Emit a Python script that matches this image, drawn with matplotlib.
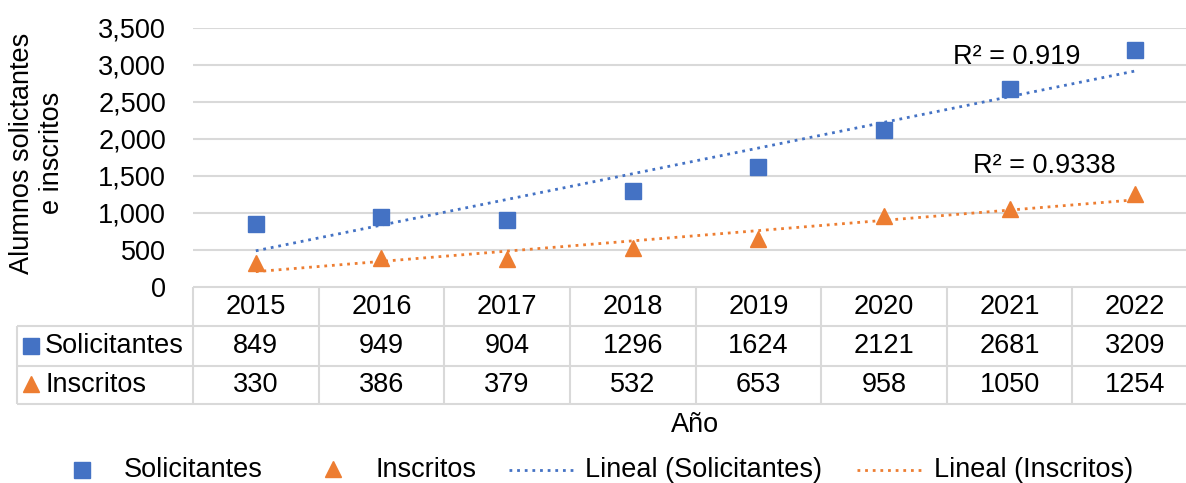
import numpy as np
import matplotlib
matplotlib.use("Agg")
import matplotlib.pyplot as plt

plt.rcParams['font.family'] = ['Liberation Sans', 'DejaVu Sans']

years = ['2015', '2016', '2017', '2018', '2019', '2020', '2021', '2022']
solicitantes = [849, 949, 904, 1296, 1624, 2121, 2681, 3209]
inscritos = [330, 386, 379, 532, 653, 958, 1050, 1254]
yticks = [0, 500, 1000, 1500, 2000, 2500, 3000, 3500]
r2_labels = ['R² = 0.919', 'R² = 0.9338']

BLUE = '#4472C4'
ORANGE = '#ED7D31'
GRID = '#D9D9D9'
FS = 19.5
DOT = dict(lw=2.0, linestyle=(0, (1, 1.75)), dash_capstyle='butt')

W, H = 1186, 483
fig = plt.figure(figsize=(W / 100, H / 100), dpi=100)

# layout (pixels)
left_px, right_px, top_px, bot_px = 193, 1198, 28, 287
colw = (right_px - left_px) / len(years)

ax = fig.add_axes([left_px / W, 1 - bot_px / H, (right_px - left_px) / W, (bot_px - top_px) / H])
x = np.arange(len(years))
ax.set_xlim(-0.5, len(years) - 0.5)
ax.set_ylim(0, 3500)
ax.set_yticks(yticks)
ax.set_yticklabels([f'{v:,}' for v in yticks], fontsize=FS)
ax.set_xticks([])
ax.tick_params(axis='y', length=0, pad=19.5)
for s in ax.spines.values():
    s.set_visible(False)
for v in yticks[1:]:
    ax.axhline(v, color=GRID, lw=1.5, zorder=0)

# trendlines
for vals, col in [(solicitantes, BLUE), (inscritos, ORANGE)]:
    c = np.polyfit(x + 1, vals, 1)
    ax.plot([x[0], x[-1]], np.polyval(c, [x[0] + 1, x[-1] + 1]), color=col, zorder=2, **DOT)

ax.plot(x, solicitantes, 's', color=BLUE, ms=12, zorder=3, clip_on=False)
ax.plot(x, inscritos, '^', color=ORANGE, ms=12, zorder=3, clip_on=False)

ax.text(6.06, 3108, r2_labels[0], fontsize=FS, ha='center', va='center')
ax.text(6.28, 1635, r2_labels[1], fontsize=FS, ha='center', va='center')

# data table
tleft_px, ttop, tbot = 17, 287, 404
rows_y = [287, 326, 366, 404]
tx0 = -0.5 - (left_px - tleft_px) / colw
tax = fig.add_axes([tleft_px / W, 1 - tbot / H, (right_px - tleft_px) / W, (tbot - ttop) / H])
tax.set_xlim(tx0, len(years) - 0.5)
tax.set_ylim(tbot, ttop)
tax.axis('off')
lkw = dict(color=GRID, lw=1.5, solid_capstyle='butt', clip_on=False)
tax.plot([-0.5, len(years) - 0.5], [rows_y[0], rows_y[0]], **lkw)
for yy in rows_y[1:]:
    tax.plot([tx0, len(years) - 0.5], [yy, yy], **lkw)
for b in np.arange(-0.5, len(years), 1.0):
    tax.plot([b, b], [rows_y[0], rows_y[-1]], **lkw)
tax.plot([tx0, tx0], [rows_y[1], rows_y[-1]], **lkw)

cy = [(rows_y[i] + rows_y[i + 1]) / 2 for i in range(3)]
for i, yr in enumerate(years):
    tax.text(i, cy[0], yr, fontsize=FS, ha='center', va='center')
    tax.text(i, cy[1], str(solicitantes[i]), fontsize=FS, ha='center', va='center')
    tax.text(i, cy[2], str(inscritos[i]), fontsize=FS, ha='center', va='center')

mx = -0.5 - (left_px - 31) / colw
tx = -0.5 - (left_px - 45) / colw
tax.plot([mx], [cy[1]], 's', color=BLUE, ms=12, clip_on=False)
tax.plot([mx], [cy[2] - 1], '^', color=ORANGE, ms=12, clip_on=False)
tax.text(tx, cy[1], 'Solicitantes', fontsize=FS, ha='left', va='center')
tax.text(tx, cy[2], 'Inscritos', fontsize=FS, ha='left', va='center')

# overlay for labels / legend in pixel coords
ov = fig.add_axes([0, 0, 1, 1])
ov.set_xlim(0, W)
ov.set_ylim(H, 0)
ov.axis('off')
ov.text((left_px + right_px) / 2, 425, 'Año', fontsize=FS, ha='center', va='center')
ov.text(37, 153, 'Alumnos solictantes\ne inscritos', fontsize=FS, ha='center', va='center',
        rotation=90, multialignment='center', linespacing=1.2)

ly = 470
ov.plot([82], [ly], 's', color=BLUE, ms=12)
ov.text(124, ly, 'Solicitantes', fontsize=FS, ha='left', va='center')
ov.plot([333], [ly - 1], '^', color=ORANGE, ms=12)
ov.text(375, ly, 'Inscritos', fontsize=FS, ha='left', va='center')
ov.plot([509, 576], [ly, ly], color=BLUE, **DOT)
ov.text(585, ly, 'Lineal (Solicitantes)', fontsize=FS, ha='left', va='center')
ov.plot([857, 925], [ly, ly], color=ORANGE, **DOT)
ov.text(934, ly, 'Lineal (Inscritos)', fontsize=FS, ha='left', va='center')

fig.savefig('out.png', dpi=100)
